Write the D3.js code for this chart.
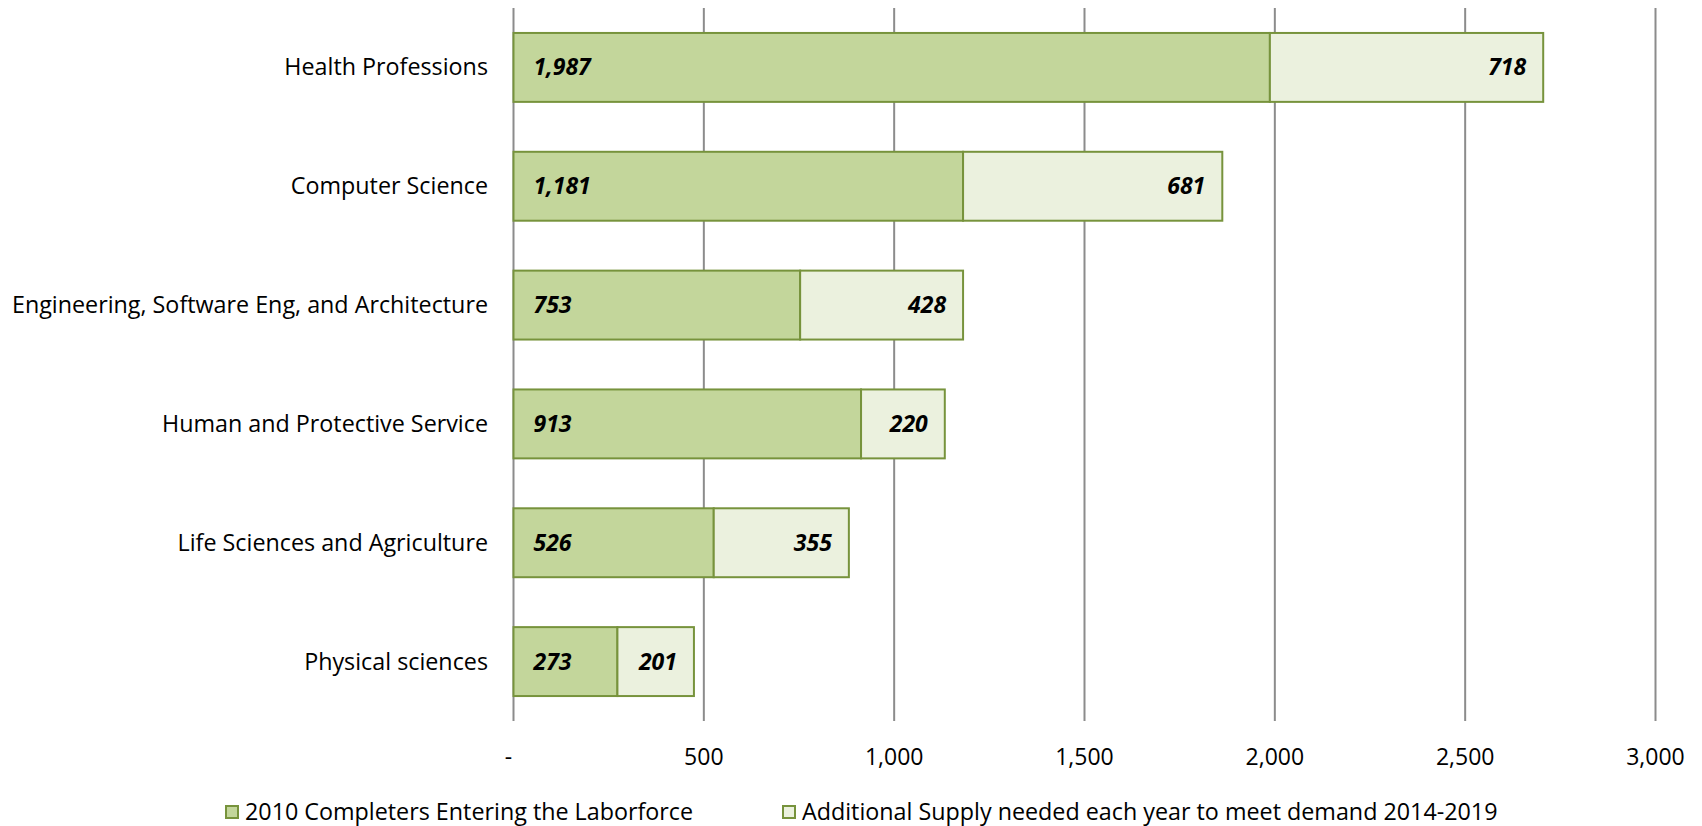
<!DOCTYPE html>
<html>
<head>
<meta charset="utf-8">
<script src="https://cdn.jsdelivr.net/npm/d3@7"></script>
<style>
  body { margin: 0; background: #fff; }
  svg text { font-family: "Open Sans", Lato, sans-serif; fill: #000; }
</style>
</head>
<body>
<svg id="chart" width="1702" height="826"></svg>
<script>
// data
const categories = [
  'Health Professions',
  'Computer Science',
  'Engineering, Software Eng, and Architecture',
  'Human and Protective Service',
  'Life Sciences and Agriculture',
  'Physical sciences'
];
const completers = [1987, 1181, 753, 913, 526, 273];
const additional = [718, 681, 428, 220, 355, 201];
const ticks = [0, 500, 1000, 1500, 2000, 2500, 3000];
const seriesNames = [
  '2010 Completers Entering the Laborforce',
  'Additional Supply needed each year to meet demand 2014-2019'
];

const svg = d3.select('#chart');
const margin = { left: 513.5, right: 46.5, top: 8, bottom: 105 };
const W = 1702, H = 826;

const x = d3.scaleLinear().domain([0, 3000]).range([margin.left, W - margin.right]);
const y = d3.scaleBand().domain(categories).range([margin.top, H - margin.bottom]).paddingInner(0.42).paddingOuter(0.21);

// vertical gridlines
svg.append('g').selectAll('line').data(ticks).join('line')
  .attr('x1', d => x(d)).attr('x2', d => x(d))
  .attr('y1', margin.top).attr('y2', H - margin.bottom)
  .attr('stroke', '#8c8c8c').attr('stroke-width', 2);

// tick labels
const fmt = d3.format(',');
svg.append('g').selectAll('text').data(ticks).join('text')
  .attr('x', d => d === 0 ? x(d) - 5 : x(d))
  .attr('y', 765)
  .attr('text-anchor', 'middle')
  .attr('font-size', 23)
  .text(d => d === 0 ? '-' : fmt(d));

// category labels
svg.append('g').selectAll('text').data(categories).join('text')
  .attr('x', 488)
  .attr('y', d => y(d) + y.bandwidth() / 2 + 8)
  .attr('text-anchor', 'end')
  .attr('font-size', 23.3)
  .text(d => d);

const rows = categories.map((c, i) => ({ cat: c, a: completers[i], b: additional[i] }));

// bars
const bars = svg.append('g');
bars.selectAll('rect.a').data(rows).join('rect')
  .attr('class', 'a')
  .attr('x', x(0))
  .attr('y', d => y(d.cat))
  .attr('width', d => x(d.a) - x(0))
  .attr('height', y.bandwidth())
  .attr('fill', '#c3d69b').attr('stroke', '#77933c').attr('stroke-width', 2);

bars.selectAll('rect.b').data(rows).join('rect')
  .attr('class', 'b')
  .attr('x', d => x(d.a))
  .attr('y', d => y(d.cat))
  .attr('width', d => x(d.a + d.b) - x(d.a))
  .attr('height', y.bandwidth())
  .attr('fill', '#ebf1de').attr('stroke', '#77933c').attr('stroke-width', 2);

// data labels
const lab = svg.append('g').attr('font-size', 23).attr('font-weight', 'bold').attr('font-style', 'italic');
lab.selectAll('text.a').data(rows).join('text')
  .attr('x', x(0) + 20)
  .attr('y', d => y(d.cat) + y.bandwidth() / 2 + 8)
  .text(d => fmt(d.a));
lab.selectAll('text.b').data(rows).join('text')
  .attr('x', d => x(d.a + d.b) - 17)
  .attr('y', d => y(d.cat) + y.bandwidth() / 2 + 8)
  .attr('text-anchor', 'end')
  .text(d => fmt(d.b));

// legend
const legX = [225, 782];
const leg = svg.append('g');
seriesNames.forEach((name, i) => {
  leg.append('rect')
    .attr('x', legX[i] + 1).attr('y', 806)
    .attr('width', 12).attr('height', 12)
    .attr('fill', i === 0 ? '#c3d69b' : '#ebf1de')
    .attr('stroke', '#77933c').attr('stroke-width', 2);
  leg.append('text')
    .attr('x', legX[i] + 20).attr('y', 820)
    .attr('font-size', 23.3)
    .text(name);
});
</script>
</body>
</html>
